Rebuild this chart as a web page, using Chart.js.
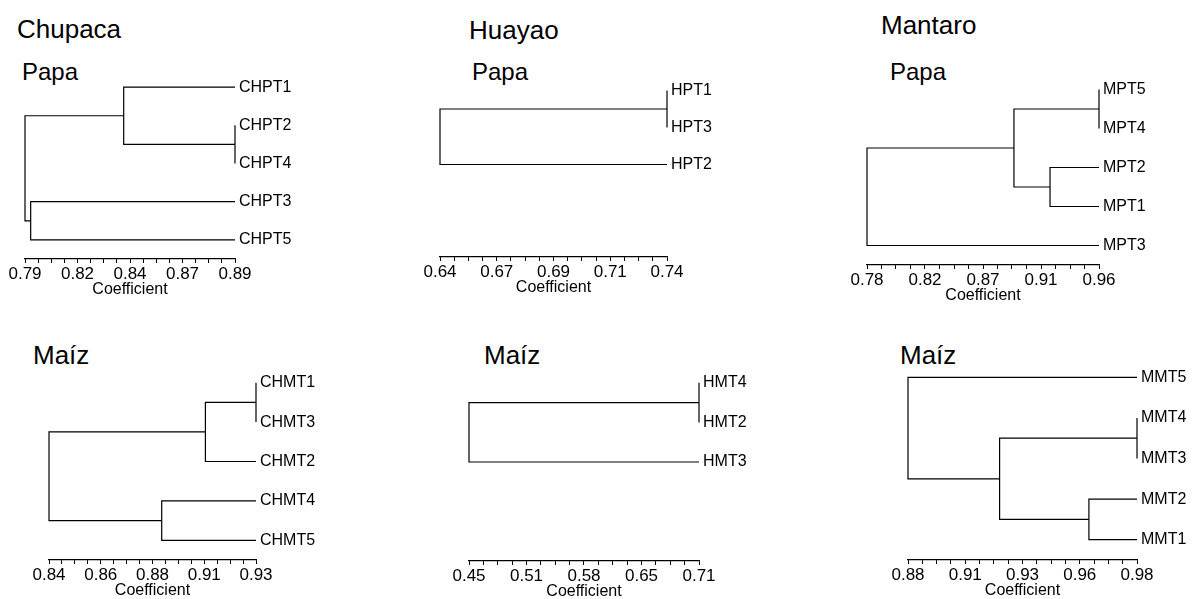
<!DOCTYPE html>
<html>
<head>
<meta charset="utf-8">
<script src="https://cdn.jsdelivr.net/npm/chart.js@4.4.1/dist/chart.umd.min.js"></script>
<style>
  body { margin: 0; background: #fff; }
  #wrap { position: relative; width: 1193px; height: 599px; overflow: hidden; font-family: "Liberation Sans", Arial, sans-serif; }
  canvas { position: absolute; }
  .lbl { position: absolute; font-size: 24px; line-height: 24px; color: #000; white-space: nowrap; }
  .big { font-size: 26px; line-height: 26px; }
</style>
</head>
<body>
<div id="wrap">
  <div class="lbl big" style="left:17px;top:16px">Chupaca</div>
  <div class="lbl big" style="left:469px;top:17px">Huayao</div>
  <div class="lbl big" style="left:881px;top:12px">Mantaro</div>
  <div class="lbl" style="left:22px;top:60px">Papa</div>
  <div class="lbl" style="left:472px;top:60px">Papa</div>
  <div class="lbl" style="left:890px;top:60px">Papa</div>
  <div class="lbl big" style="left:33px;top:342px">Maíz</div>
  <div class="lbl big" style="left:484px;top:342px">Maíz</div>
  <div class="lbl big" style="left:900px;top:342px">Maíz</div>
</div>
<script>
// leaf order (top to bottom), merges [a, b, coefficient], axis range and tick labels
const chpLeaves = ['CHPT1', 'CHPT2', 'CHPT4', 'CHPT3', 'CHPT5'];
const chpMerges = [[1, 2, 0.89], [0, 5, 0.837], [3, 4, 0.7927], [6, 7, 0.79]];
const chpRange = [0.79, 0.89];
const chpTicks = ['0.79', '0.82', '0.84', '0.87', '0.89'];

const hpLeaves = ['HPT1', 'HPT3', 'HPT2'];
const hpMerges = [[0, 1, 0.74], [3, 2, 0.64]];
const hpRange = [0.64, 0.74];
const hpTicks = ['0.64', '0.67', '0.69', '0.71', '0.74'];

const mpLeaves = ['MPT5', 'MPT4', 'MPT2', 'MPT1', 'MPT3'];
const mpMerges = [[0, 1, 0.96], [2, 3, 0.922], [5, 6, 0.894], [7, 4, 0.78]];
const mpRange = [0.78, 0.96];
const mpTicks = ['0.78', '0.82', '0.87', '0.91', '0.96'];

const chmLeaves = ['CHMT1', 'CHMT3', 'CHMT2', 'CHMT4', 'CHMT5'];
const chmMerges = [[0, 1, 0.93], [5, 2, 0.908], [3, 4, 0.889], [6, 7, 0.84]];
const chmRange = [0.84, 0.93];
const chmTicks = ['0.84', '0.86', '0.88', '0.91', '0.93'];

const hmLeaves = ['HMT4', 'HMT2', 'HMT3'];
const hmMerges = [[0, 1, 0.71], [3, 2, 0.45]];
const hmRange = [0.45, 0.71];
const hmTicks = ['0.45', '0.51', '0.58', '0.65', '0.71'];

const mmLeaves = ['MMT5', 'MMT4', 'MMT3', 'MMT2', 'MMT1'];
const mmMerges = [[1, 2, 0.98], [3, 4, 0.959], [5, 6, 0.92], [0, 7, 0.88]];
const mmRange = [0.88, 0.98];
const mmTicks = ['0.88', '0.91', '0.93', '0.96', '0.98'];

// where each panel's plot box sits on the page: axis left/right, plot top, axis line y
const panels = [
  { leaves: chpLeaves, merges: chpMerges, range: chpRange, ticks: chpTicks, box: [25, 235, 68, 259] },
  { leaves: hpLeaves, merges: hpMerges, range: hpRange, ticks: hpTicks, box: [440, 667, 72, 257] },
  { leaves: mpLeaves, merges: mpMerges, range: mpRange, ticks: mpTicks, box: [867, 1099, 70, 265] },
  { leaves: chmLeaves, merges: chmMerges, range: chmRange, ticks: chmTicks, box: [49, 256, 363, 560] },
  { leaves: hmLeaves, merges: hmMerges, range: hmRange, ticks: hmTicks, box: [469, 699, 363, 561] },
  { leaves: mmLeaves, merges: mmMerges, range: mmRange, ticks: mmTicks, box: [908, 1137, 357, 560] }
];

const PADL = 20, PADT = 16, YW = 70, XH = 40;
const FONT = '"Liberation Sans", Arial, sans-serif';

function buildSegments(p) {
  const nodes = p.leaves.map((_, i) => ({ x: p.range[1], y: i }));
  const sets = [];
  p.merges.forEach(m => {
    const a = nodes[m[0]], b = nodes[m[1]], h = m[2];
    sets.push({
      data: [{ x: a.x, y: a.y }, { x: h, y: a.y }, { x: h, y: b.y }, { x: b.x, y: b.y }],
      showLine: true,
      borderColor: '#000',
      borderWidth: 1.2,
      pointRadius: 0,
      fill: false,
      tension: 0,
      clip: false
    });
    nodes.push({ x: h, y: (a.y + b.y) / 2 });
  });
  return sets;
}

const wrap = document.getElementById('wrap');
panels.forEach(p => {
  const [l, r, t, b] = p.box;
  const cv = document.createElement('canvas');
  const w = (r - l) + PADL + YW, h = (b - t) + PADT + XH;
  cv.width = w; cv.height = h;
  cv.style.left = (l - PADL) + 'px';
  cv.style.top = (t - PADT) + 'px';
  cv.style.width = w + 'px';
  cv.style.height = h + 'px';
  wrap.appendChild(cv);

  const [lo, hi] = p.range;
  new Chart(cv.getContext('2d'), {
    type: 'scatter',
    data: { datasets: buildSegments(p) },
    options: {
      responsive: false,
      animation: false,
      layout: { padding: { left: PADL, top: PADT, right: 0, bottom: 0 } },
      plugins: { legend: { display: false }, tooltip: { enabled: false } },
      scales: {
        x: {
          type: 'linear',
          min: lo,
          max: hi,
          afterBuildTicks: s => {
            const out = [];
            for (let i = 0; i <= 16; i++) out.push({ value: lo + (hi - lo) * i / 16 });
            s.ticks = out;
          },
          afterFit: s => { s.height = XH; },
          ticks: {
            autoSkip: false,
            maxRotation: 0,
            padding: 1,
            color: '#000',
            font: { family: FONT, size: 17 },
            callback: (v, i) => (i % 4 === 0 ? p.ticks[i / 4] : '')
          },
          grid: { display: true, drawOnChartArea: false, drawTicks: true, tickLength: 4, color: '#000' },
          border: { display: true, color: '#000', width: 1.2 },
          title: { display: true, text: 'Coefficient', color: '#000', font: { family: FONT, size: 16 }, padding: { top: -1, bottom: 0 } }
        },
        y: {
          type: 'linear',
          position: 'right',
          reverse: true,
          min: -0.5,
          max: 4.5,
          afterBuildTicks: s => { s.ticks = p.leaves.map((_, i) => ({ value: i })); },
          afterFit: s => { s.width = YW; },
          ticks: {
            padding: 4,
            color: '#000',
            font: { family: FONT, size: 16 },
            callback: v => p.leaves[v]
          },
          grid: { display: false, drawTicks: false },
          border: { display: false }
        }
      }
    }
  });
});
</script>
</body>
</html>
